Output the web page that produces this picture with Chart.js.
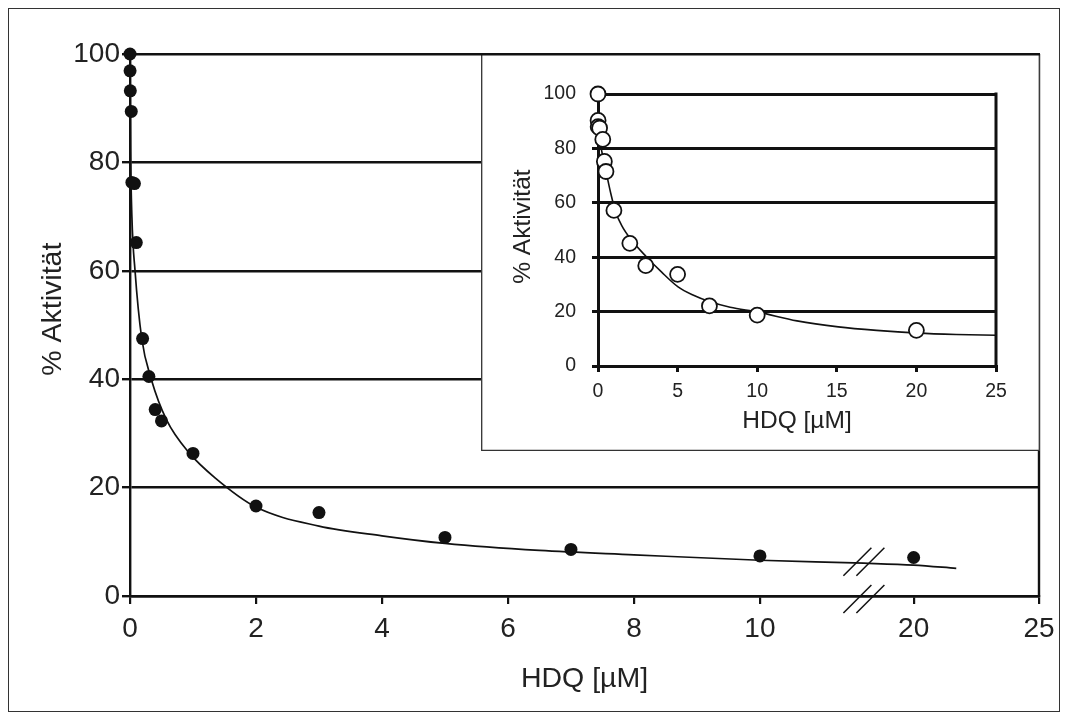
<!DOCTYPE html>
<html>
<head>
<meta charset="utf-8">
<script src="https://cdn.jsdelivr.net/npm/chart.js@4/dist/chart.umd.min.js"></script>
<style>
html,body{margin:0;padding:0;background:#fff;}
#wrap{position:relative;width:1068px;height:720px;overflow:hidden;background:#fff;}
#main{position:absolute;left:0;top:0;}
#frame{position:absolute;left:8px;top:8px;width:1052px;height:704px;border:1px solid #333;box-sizing:border-box;pointer-events:none;}
#inset{position:absolute;left:481px;top:53px;}
</style>
</head>
<body>
<div id="wrap">
  <canvas id="main" width="1068" height="720"></canvas>
  <div id="frame"></div>
  <canvas id="inset" width="559" height="398"></canvas>
</div>
<script>
// ---------------- data ----------------
// main panel: measured points
const MAIN_CONC     = [0, 0.001, 0.005, 0.02, 0.03, 0.07, 0.1, 0.2, 0.3, 0.4, 0.5, 1, 2, 3, 5, 7, 10, 20];
const MAIN_ACTIVITY = [100, 96.9, 93.2, 89.4, 76.3, 76.1, 65.2, 47.5, 40.5, 34.4, 32.3, 26.3, 16.6, 15.4, 10.8, 8.6, 7.4, 7.1];
// main panel: fitted curve
const MAIN_FIT_CONC     = [0, 0.01, 0.03, 0.08, 0.185, 0.34, 0.58, 0.94, 1.35, 2, 3, 4, 5, 6.5, 8, 10, 11.65, 20, 21.7];
const MAIN_FIT_ACTIVITY = [100, 82, 70, 60, 47.6, 39.9, 32.5, 26.4, 21.8, 16.4, 12.9, 11.1, 9.7, 8.4, 7.6, 6.6, 6.05, 5.7, 5.1];
// inset panel: measured points
const INSET_CONC     = [0, 0.005, 0.01, 0.1, 0.3, 0.4, 0.5, 1, 2, 3, 5, 7, 10, 20];
const INSET_ACTIVITY = [100, 90.3, 88, 87.5, 83.3, 75.2, 71.5, 57.2, 45.1, 36.9, 33.7, 22.1, 18.7, 13.1];
// inset panel: fitted curve
const INSET_FIT_CONC     = [0, 0.02, 0.08, 0.2, 0.35, 0.53, 0.8, 1.09, 1.5, 2.1, 3.05, 4, 5.03, 6, 7.04, 8.3, 10.05, 12.5, 15.1, 17.5, 20.1, 22.5, 25];
const INSET_FIT_ACTIVITY = [100, 90, 85, 80, 76, 70.8, 63.5, 57, 51.5, 46.3, 40.1, 34.5, 29.1, 26, 23.6, 21.6, 19.8, 16.6, 14.4, 13.1, 12.1, 11.6, 11.3];

// tick labels
const MAIN_X_TICKS  = [0, 2, 4, 6, 8, 10, 20, 25];
const MAIN_Y_TICKS  = [0, 20, 40, 60, 80, 100];
const INSET_X_TICKS = [0, 5, 10, 15, 20, 25];
const INSET_Y_TICKS = [0, 20, 40, 60, 80, 100];

// broken x axis of the main panel: real value -> position along axis
const AXIS_BREAK_REAL  = [0, 11.65, 20, 25];
const AXIS_BREAK_SHOWN = [0, 11.65, 12.44, 14.43];
const BREAK_AT = 11.65;

const Y_TITLE = '% Aktivität';
const X_TITLE = 'HDQ [µM]';

// ---------------- broken scale ----------------
function interp(v, xs, ys) {
  const n = xs.length;
  let i = 1;
  while (i < n - 1 && v > xs[i]) i++;
  return ys[i - 1] + (v - xs[i - 1]) * (ys[i] - ys[i - 1]) / (xs[i] - xs[i - 1]);
}
class BrokenScale extends Chart.LinearScale {
  static id = 'broken';
  static defaults = Chart.LinearScale.defaults;
  buildTicks() {
    return MAIN_X_TICKS.map(v => ({ value: v }));
  }
  getPixelForValue(value) {
    if (value === null || value === undefined || isNaN(value)) return NaN;
    const a = interp(this.min, AXIS_BREAK_REAL, AXIS_BREAK_SHOWN);
    const b = interp(this.max, AXIS_BREAK_REAL, AXIS_BREAK_SHOWN);
    const d = interp(value, AXIS_BREAK_REAL, AXIS_BREAK_SHOWN);
    return this.getPixelForDecimal((d - a) / (b - a));
  }
  getValueForPixel(pixel) {
    const a = interp(this.min, AXIS_BREAK_REAL, AXIS_BREAK_SHOWN);
    const b = interp(this.max, AXIS_BREAK_REAL, AXIS_BREAK_SHOWN);
    const d = a + this.getDecimalForPixel(pixel) * (b - a);
    return interp(d, AXIS_BREAK_SHOWN, AXIS_BREAK_REAL);
  }
}
Chart.register(BrokenScale);

const FONT = "'Liberation Sans', Arial, Helvetica, sans-serif";
const INK = '#111';
const TXT = '#222';
Chart.defaults.font.family = FONT;

function pts(xs, ys) { return xs.map((x, i) => ({ x: x, y: ys[i] })); }

// ---------------- main chart ----------------
const mainDecor = {
  id: 'mainDecor',
  beforeDraw(chart) {
    const c = chart.ctx;
    c.save(); c.fillStyle = '#fff'; c.fillRect(0, 0, chart.width, chart.height); c.restore();
  },
  afterDraw(chart) {
    const { ctx: c, chartArea: a, scales: { x, y } } = chart;
    c.save();
    c.strokeStyle = INK;
    c.lineWidth = 2.4;
    c.beginPath(); c.moveTo(a.right, a.top); c.lineTo(a.right, a.bottom + 1); c.stroke();
    // axis-break marks
    const bx = x.getPixelForValue(BREAK_AT);
    const cy = y.getPixelForValue(interp(BREAK_AT, MAIN_FIT_CONC, MAIN_FIT_ACTIVITY)) - 1.5;
    const ay = a.bottom + 3;
    c.lineWidth = 1.5;
    [cy, ay].forEach(yy => {
      [-6.5, 6.5].forEach(k => {
        c.beginPath();
        c.moveTo(bx + k - 14, yy + 14);
        c.lineTo(bx + k + 14, yy - 14);
        c.stroke();
      });
    });
    c.restore();
  }
};

new Chart(document.getElementById('main'), {
  type: 'scatter',
  data: {
    datasets: [
      {
        type: 'line',
        label: 'Fit',
        data: pts(MAIN_FIT_CONC, MAIN_FIT_ACTIVITY),
        borderColor: INK,
        borderWidth: 1.7,
        pointRadius: 0,
        cubicInterpolationMode: 'monotone',
        fill: false,
        clip: false,
        order: 2
      },
      {
        label: 'Aktivität',
        data: pts(MAIN_CONC, MAIN_ACTIVITY),
        pointRadius: 6.5,
        pointBackgroundColor: INK,
        pointBorderColor: INK,
        pointBorderWidth: 0,
        showLine: false,
        clip: false,
        order: 1
      }
    ]
  },
  options: {
    responsive: false,
    animation: false,
    layout: { padding: { left: 0, top: 54, right: 29, bottom: 0 } },
    plugins: { legend: { display: false }, tooltip: { enabled: false } },
    scales: {
      x: {
        type: 'broken',
        min: 0, max: 25,
        position: 'bottom',
        grid: { drawOnChartArea: false, drawTicks: true, tickLength: 8, color: INK, tickColor: INK, lineWidth: 2.2 },
        border: { display: true, color: INK, width: 2.4 },
        ticks: { color: TXT, font: { size: 28 }, padding: 8, maxRotation: 0, autoSkip: false, callback: v => String(v) },
        title: { display: true, text: X_TITLE, color: TXT, font: { size: 28.5 }, padding: { top: 0, bottom: 24 } },
        afterFit(s) { s.height = 124; }
      },
      y: {
        min: 0, max: 100,
        afterBuildTicks(s) { s.ticks = MAIN_Y_TICKS.map(v => ({ value: v })); },
        grid: { color: INK, tickColor: INK, lineWidth: 2.4, tickLength: 8, drawTicks: true },
        border: { display: true, color: INK, width: 2.4 },
        ticks: { color: TXT, font: { size: 28 }, padding: 2, callback: v => String(v) },
        title: { display: true, text: '    ' + Y_TITLE, color: TXT, font: { size: 28.5 }, padding: { top: 36, bottom: 0 } },
        afterFit(s) { s.width = 130; }
      }
    }
  },
  plugins: [mainDecor]
});

// ---------------- inset chart ----------------
const insetDecor = {
  id: 'insetDecor',
  beforeDraw(chart) {
    const c = chart.ctx;
    c.save(); c.fillStyle = '#fff'; c.fillRect(0, 0, chart.width, chart.height); c.restore();
  },
  afterDraw(chart) {
    const { ctx: c, chartArea: a, width: w, height: h } = chart;
    c.save();
    c.strokeStyle = INK;
    c.lineWidth = 3;
    c.beginPath(); c.moveTo(a.right, a.top - 1.5); c.lineTo(a.right, a.bottom + 1.5); c.stroke();
    // box border
    c.strokeStyle = '#333';
    c.lineWidth = 1.3;
    c.beginPath();
    c.moveTo(0.7, 0); c.lineTo(0.7, h - 0.7); c.lineTo(w - 0.7, h - 0.7); c.lineTo(w - 0.7, 0);
    c.stroke();
    c.strokeStyle = INK;
    c.lineWidth = 2.4;
    c.beginPath(); c.moveTo(0, 1.2); c.lineTo(w, 1.2); c.stroke();
    c.restore();
  }
};

new Chart(document.getElementById('inset'), {
  type: 'scatter',
  data: {
    datasets: [
      {
        type: 'line',
        label: 'Fit',
        data: pts(INSET_FIT_CONC, INSET_FIT_ACTIVITY),
        borderColor: INK,
        borderWidth: 1.6,
        pointRadius: 0,
        cubicInterpolationMode: 'monotone',
        fill: false,
        clip: false,
        order: 2
      },
      {
        label: 'Aktivität',
        data: pts(INSET_CONC, INSET_ACTIVITY),
        pointRadius: 7.5,
        pointBackgroundColor: '#fff',
        pointBorderColor: INK,
        pointBorderWidth: 1.8,
        showLine: false,
        clip: false,
        order: 1
      }
    ]
  },
  options: {
    responsive: false,
    animation: false,
    layout: { padding: { left: 0, top: 41, right: 44, bottom: 0 } },
    plugins: { legend: { display: false }, tooltip: { enabled: false } },
    scales: {
      x: {
        type: 'linear',
        min: 0, max: 25,
        afterBuildTicks(s) { s.ticks = INSET_X_TICKS.map(v => ({ value: v })); },
        grid: { drawOnChartArea: false, drawTicks: true, tickLength: 6, color: INK, tickColor: INK, lineWidth: 3 },
        border: { display: true, color: INK, width: 3 },
        ticks: { color: TXT, font: { size: 19.5 }, padding: 8, maxRotation: 0, autoSkip: false, callback: v => String(v) },
        title: { display: true, text: X_TITLE, color: TXT, font: { size: 24.5 }, padding: { top: 0, bottom: 15 } },
        afterFit(s) { s.height = 85; }
      },
      y: {
        min: 0, max: 100,
        afterBuildTicks(s) { s.ticks = INSET_Y_TICKS.map(v => ({ value: v })); },
        grid: { color: INK, tickColor: INK, lineWidth: 3, tickLength: 6, drawTicks: true },
        border: { display: true, color: INK, width: 3 },
        ticks: { color: TXT, font: { size: 19.5 }, padding: 16, callback: v => String(v) },
        title: { display: true, text: ' ' + Y_TITLE, color: TXT, font: { size: 24.5 }, padding: { top: 28, bottom: 0 } },
        afterFit(s) { s.width = 117; }
      }
    }
  },
  plugins: [insetDecor]
});
</script>
</body>
</html>
